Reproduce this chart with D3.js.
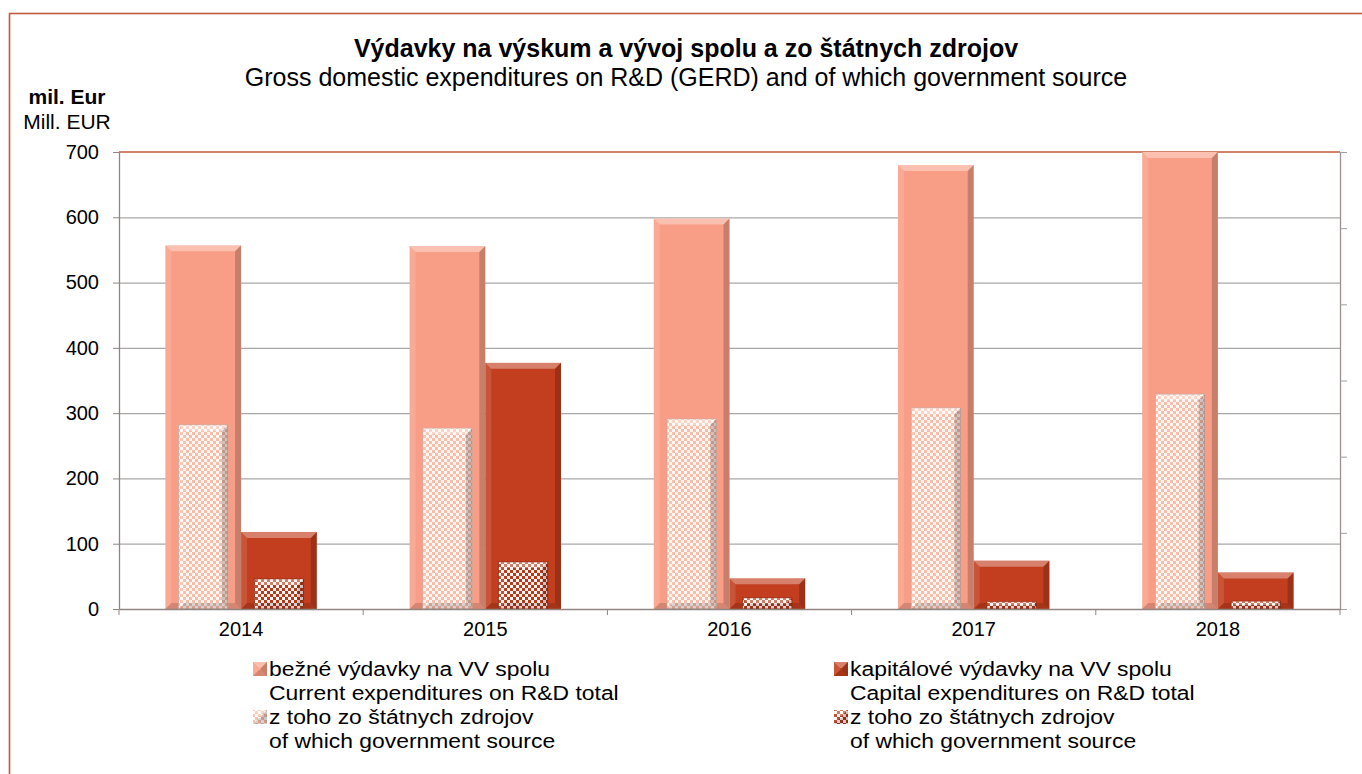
<html>
<head>
    <style>
        body {
            margin: 0;
            background: white;
            font-family: "Liberation Sans", Arial, sans-serif
        }
    </style>
    <script src="https://d3js.org/d3.v7.min.js"></script>
</head>

<body>
<svg id="chart"></svg>
<script>

let years = ["2014", "2015", "2016", "2017", "2018"]
let current = [557, 556, 598, 680, 700]
let currentGov = [282, 277, 291, 308, 329]
let capital = [118, 377, 47, 74, 56]
let capitalGov = [46, 72, 17, 11, 12]
let yTicks = [0, 100, 200, 300, 400, 500, 600, 700]

let titleSk = "Výdavky na výskum a vývoj spolu a zo štátnych zdrojov"
let titleEn = "Gross domestic expenditures on R&D (GERD) and of which government source"
let unitSk = "mil. Eur"
let unitEn = "Mill. EUR"
let legendItems = [
    {sk: "bežné výdavky na VV spolu", en: "Current expenditures on R&D total", fill: "#F99E86"},
    {sk: "kapitálové výdavky na VV spolu", en: "Capital expenditures on R&D total", fill: "#C23E1E"},
    {sk: "z toho zo štátnych zdrojov", en: "of which government source", fill: "url(#chkLight)"},
    {sk: "z toho zo štátnych zdrojov", en: "of which government source", fill: "url(#chkDark)"}
]

let width = 1362, height = 774
let plot = {left: 119, right: 1340, top: 152, bottom: 609}

let svg = d3.select("#chart")
    .attr("width", width)
    .attr("height", height)
    .style("display", "block")

// checker patterns for the "of which" bars
let defs = svg.append("defs")
function checker(id, light, dark) {
    let p = defs.append("pattern")
        .attr("id", id)
        .attr("width", 6).attr("height", 6)
        .attr("patternUnits", "userSpaceOnUse")
    p.append("rect").attr("width", 6).attr("height", 6).attr("fill", light)
    p.append("rect").attr("width", 3).attr("height", 3).attr("fill", dark)
    p.append("rect").attr("x", 3).attr("y", 3).attr("width", 3).attr("height", 3).attr("fill", dark)
}
checker("chkLight", "#FFF6F2", "#F6BDAA")
checker("chkDark", "#FFF4F0", "#B8391A")

// outer frame
svg.append("rect")
    .attr("x", 9.5).attr("y", 13.5)
    .attr("width", width + 20).attr("height", height + 20)
    .attr("fill", "none")
    .attr("stroke", "#C25B3A")
    .attr("stroke-width", 1.6)

let y = d3.scaleLinear().domain([0, 700]).range([plot.bottom, plot.top])
let y2 = d3.scaleLinear().domain([0, 60]).range([plot.bottom, plot.top])

let x0 = d3.scaleBand()
    .domain(years)
    .range([plot.left, plot.right])
    .paddingInner(0.38)
    .paddingOuter(0.19)
let x1 = d3.scaleBand()
    .domain(["cur", "cap"])
    .range([0, x0.bandwidth()])

// gridlines
svg.append("g")
    .attr("transform", `translate(${plot.left},0)`)
    .call(d3.axisLeft(y).tickValues(yTicks.slice(1, -1)).tickSize(-(plot.right - plot.left)).tickFormat(""))
    .call(g => g.select(".domain").remove())
    .selectAll("line").attr("stroke", "#A8A8A8").attr("stroke-width", 1.2)

svg.append("line")
    .attr("x1", plot.left).attr("x2", plot.right)
    .attr("y1", y(700)).attr("y2", y(700))
    .attr("stroke", "#C25B3A").attr("stroke-width", 1.3)

// bevelled bar
function bevelBar(g, x, yTop, w, h, fill, stroke) {
    let b = Math.min(6, h / 2, w / 2)
    g.append("rect")
        .attr("x", x).attr("y", yTop)
        .attr("width", w).attr("height", h)
        .attr("fill", fill)
        .attr("stroke", stroke || "none")
        .attr("stroke-width", 0.8)
    let x2 = x + w, yb = yTop + h
    let faces = [
        {pts: [[x, yTop], [x2, yTop], [x2 - b, yTop + b], [x + b, yTop + b]], c: "white", o: 0.35},
        {pts: [[x, yTop], [x + b, yTop + b], [x + b, yb - b], [x, yb]], c: "white", o: 0.12},
        {pts: [[x2, yTop], [x2 - b, yTop + b], [x2 - b, yb - b], [x2, yb]], c: "black", o: 0.2},
        {pts: [[x, yb], [x + b, yb - b], [x2 - b, yb - b], [x2, yb]], c: "black", o: 0.15}
    ]
    faces.forEach(f => {
        g.append("polygon")
            .attr("points", f.pts.map(p => p.join(",")).join(" "))
            .attr("fill", f.c)
            .attr("fill-opacity", f.o)
    })
}

let bars = svg.append("g")
years.forEach((yr, i) => {
    let cx = x0(yr)
    let bw = x1.bandwidth()
    let gw = bw * 0.65
    bevelBar(bars, cx + x1("cur"), y(current[i]), bw, y(0) - y(current[i]), "#F99E86")
    bevelBar(bars, cx + x1("cap"), y(capital[i]), bw, y(0) - y(capital[i]), "#C23E1E")
    bevelBar(bars, cx + x1("cur") + (bw - gw) / 2, y(currentGov[i]), gw, y(0) - y(currentGov[i]), "url(#chkLight)", "#C9A89E")
    bevelBar(bars, cx + x1("cap") + (bw - gw) / 2, y(capitalGov[i]), gw, y(0) - y(capitalGov[i]), "url(#chkDark)", "#8E2A12")
})

// axes
let yAxis = svg.append("g")
    .attr("transform", `translate(${plot.left},0)`)
    .call(d3.axisLeft(y).tickValues(yTicks).tickSize(6).tickSizeOuter(0).tickPadding(14))
yAxis.select(".domain").attr("stroke", "#8F8581").attr("stroke-width", 1.3)
yAxis.selectAll(".tick line").attr("stroke", "#8F8581")
yAxis.selectAll("text")
    .attr("font-size", 20)
    .attr("font-family", "Liberation Sans, Arial, sans-serif")
    .attr("fill", "#000")

let rAxis = svg.append("g")
    .attr("transform", `translate(${plot.right},0)`)
    .call(d3.axisRight(y2).ticks(6).tickSize(7).tickSizeOuter(0).tickFormat(""))
rAxis.select(".domain").attr("stroke", "#9E918D").attr("stroke-width", 1.3)
rAxis.selectAll(".tick line").attr("stroke", "#9AA0A8")

let xAxis = svg.append("g")
    .attr("transform", `translate(0,${plot.bottom})`)
    .call(d3.axisBottom(x0).tickSize(0).tickSizeOuter(0).tickPadding(13))
xAxis.select(".domain").attr("stroke", "#8F8581").attr("stroke-width", 1.3)
xAxis.selectAll("text")
    .attr("font-size", 20)
    .attr("font-family", "Liberation Sans, Arial, sans-serif")
    .attr("fill", "#000")

// tick marks between categories
let bounds = d3.range(years.length + 1).map(i => plot.left + i * x0.step())
svg.append("g").selectAll("line").data(bounds)
    .enter().append("line")
    .attr("x1", d => d).attr("x2", d => d)
    .attr("y1", plot.bottom).attr("y2", plot.bottom + 6)
    .attr("stroke", "#8F8581")

// titles
svg.append("text")
    .attr("x", 686).attr("y", 57)
    .attr("text-anchor", "middle")
    .attr("font-size", 25).attr("font-weight", "bold")
    .text(titleSk)
svg.append("text")
    .attr("x", 686).attr("y", 86)
    .attr("text-anchor", "middle")
    .attr("font-size", 25)
    .text(titleEn)

svg.append("text")
    .attr("x", 67).attr("y", 104)
    .attr("text-anchor", "middle")
    .attr("font-size", 21).attr("font-weight", "bold")
    .text(unitSk)
svg.append("text")
    .attr("x", 67).attr("y", 129)
    .attr("text-anchor", "middle")
    .attr("font-size", 21)
    .text(unitEn)

// legend, two columns; text a bit wide like the original
let legend = svg.append("g")
legendItems.forEach((d, i) => {
    let lx = i % 2 == 0 ? 253 : 834
    let ly = i < 2 ? 676 : 724
    let g = legend.append("g")
    bevelBar(g, lx, ly - 14, 14, 14, d.fill)
    g.append("text")
        .attr("transform", `translate(${lx + 16},${ly}) scale(1.09,1)`)
        .attr("font-size", 21).text(d.sk)
    g.append("text")
        .attr("transform", `translate(${lx + 16},${ly + 24}) scale(1.09,1)`)
        .attr("font-size", 21).text(d.en)
})

</script>
</body>
</html>
